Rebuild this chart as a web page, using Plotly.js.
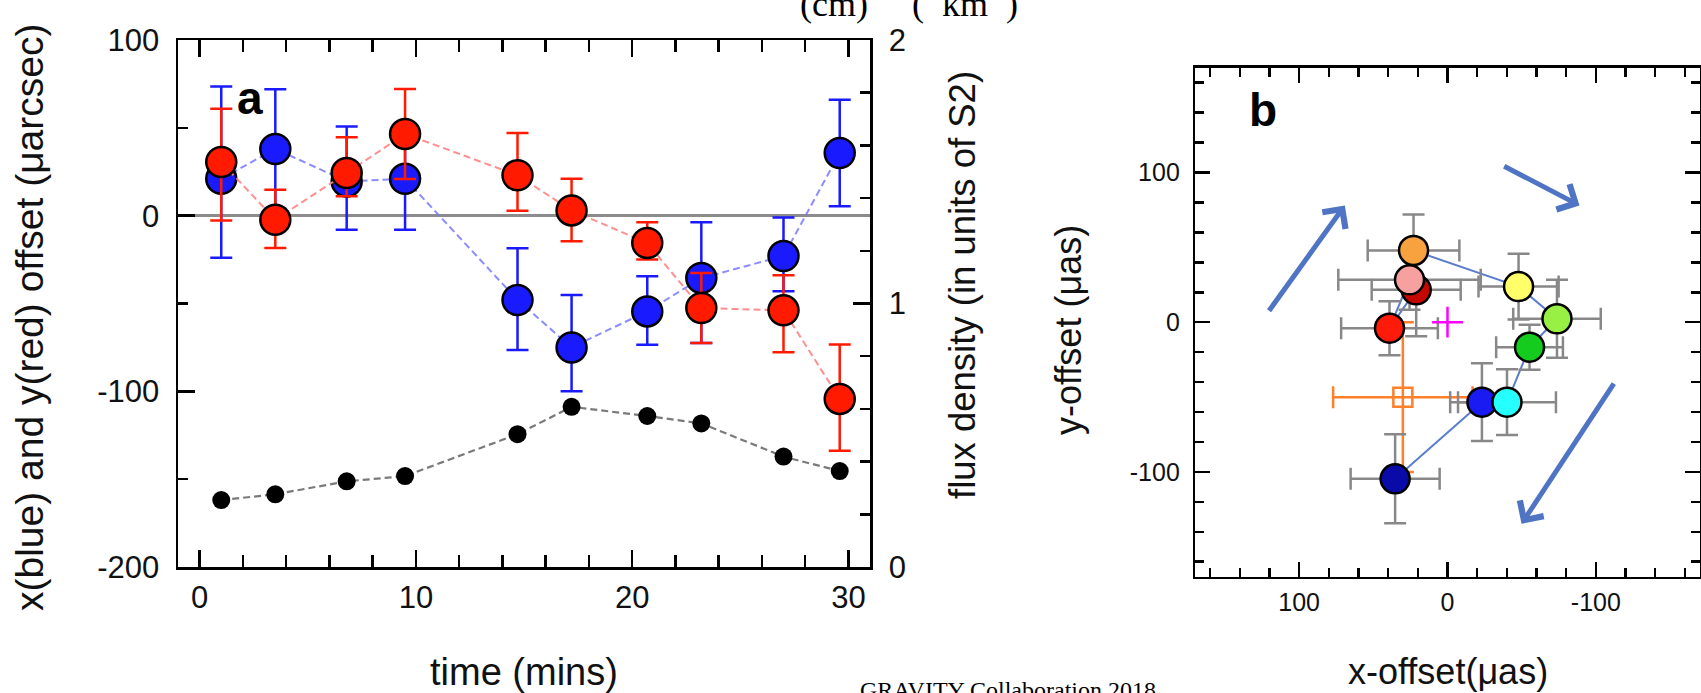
<!DOCTYPE html>
<html><head><meta charset="utf-8">
<script src="https://cdn.plot.ly/plotly-3.0.1.min.js"></script>
<style>html,body{margin:0;padding:0;background:#fff}#chart{width:1701px;height:693px}</style>
</head><body><div id="chart"></div>
<script>
// ---------- Panel a data ----------
const time = [1.0, 3.5, 6.8, 9.5, 14.7, 17.2, 20.7, 23.2, 27.0, 29.6];
const xOffset = [21, 38, 19.5, 21, -48, -75, -54.5, -35.5, -23, 35.7];
const xErrPlus = [52.6, 34, 31.3, 29, 29.4, 29.8, 20, 31.7, 21.9, 30.3];
const xErrMinus = [45, 34, 27.5, 29, 28.5, 25, 19, 37, 20, 30.4];
const yOffset = [30.5, -2.3, 24.3, 46.5, 23, 3, -15.6, -52.6, -53.9, -104.3];
const yErrPlus = [30.4, 17.1, 20.3, 25.6, 24, 18, 11.8, 20, 20, 30.9];
const yErrMinus = [33.2, 16.1, 13.3, 25.6, 20.2, 17.6, 9.4, 19.9, 23.9, 29.5];
const flux = [0.254, 0.276, 0.325, 0.345, 0.504, 0.608, 0.573, 0.545, 0.419, 0.364];
const offsetTickVals = [-200, -100, 0, 100];
const offsetTickText = ['-200', '-100', '0', '100'];

// ---------- Panel b data (time order) ----------
const bColors = ['#f7a0a0', '#ff1a0a', '#c40800', '#f7a23e', '#ffff6a', '#99f044', '#14cc1e', '#26ffff', '#1a1af2', '#0a0aa8'];
const bX = [25.6, 39.1, 21.1, 22.9, -47.9, -73.8, -55.3, -40.1, -23.2, 35.3];
const bY = [28.3, -4.0, 21.6, 47.9, 23.8, 2.3, -16.7, -53.4, -53.4, -104.6];
const bXErr = [48, 32.6, 30, 30.9, 27, 29.5, 22.5, 33, 21.4, 30];
const bYErr = [20, 18, 31, 24, 22, 26, 15, 22, 26, 29.7];
const meanX = [30.1], meanY = [-50.1], meanXErr = [47], meanYErr = [50];
const centerX = [0], centerY = [0];
const bTickVals = [-100, 0, 100];
const bTickText = ['-100', '0', '100'];
const arrowHeadX = [69.2, -89, -49.9], arrowHeadY = [78, 78, -134.7];
const arrowTailX = [121, -37.2, -112.8], arrowTailY = [6.7, 104.7, -40];

const W = 1701, H = 693;
const fx = p => p / W, fy = p => 1 - p / H;
const FONT = 'Liberation Sans, Arial, Helvetica, sans-serif';
const SERIF = 'Liberation Serif, Times New Roman, serif';

const axBase = {showline: true, linecolor: '#000', linewidth: 2.5, ticks: 'inside', tickcolor: '#000',
  tickwidth: 2.5, showgrid: false, zeroline: false, fixedrange: true};

const dash = '7px,4px';
const order = bX.map((_, i) => i).reverse();
const pick = (arr) => order.map(i => arr[i]);

const traces = [
  {x: time, y: flux, xaxis: 'x', yaxis: 'y2', mode: 'lines+markers',
   line: {color: '#7a7a7a', dash: dash, width: 2.2}, marker: {size: 18, color: '#000'}},
  {x: time, y: xOffset, xaxis: 'x', yaxis: 'y', mode: 'lines+markers',
   line: {color: 'rgba(120,120,255,0.85)', dash: dash, width: 2},
   marker: {size: 30, color: '#1a1aff', line: {color: '#000', width: 2.5}},
   error_y: {type: 'data', symmetric: false, array: xErrPlus, arrayminus: xErrMinus, color: '#1a1aff', thickness: 2.5, width: 11}},
  {x: time, y: yOffset, xaxis: 'x', yaxis: 'y', mode: 'lines+markers',
   line: {color: 'rgba(255,130,130,0.9)', dash: dash, width: 2},
   marker: {size: 30, color: '#ff1a00', line: {color: '#000', width: 2.5}},
   error_y: {type: 'data', symmetric: false, array: yErrPlus, arrayminus: yErrMinus, color: '#ff1a00', thickness: 2.5, width: 11}},
  // panel b
  {x: bX, y: bY, xaxis: 'x2', yaxis: 'y3', mode: 'lines', line: {color: '#5a7dcc', width: 2}},
  {x: meanX, y: meanY, xaxis: 'x2', yaxis: 'y3', mode: 'markers',
   marker: {symbol: 'square-open', size: 19, color: '#ff7f2a', line: {color: '#ff7f2a', width: 2.5}},
   error_x: {type: 'data', array: meanXErr, color: '#ff7f2a', thickness: 2.5, width: 11},
   error_y: {type: 'data', array: meanYErr, color: '#ff7f2a', thickness: 2.5, width: 11}},
  {x: pick(bX), y: pick(bY), xaxis: 'x2', yaxis: 'y3', mode: 'markers',
   marker: {size: 29, color: pick(bColors), line: {color: '#000', width: 2.5}},
   error_x: {type: 'data', array: pick(bXErr), color: '#888', thickness: 2.5, width: 11},
   error_y: {type: 'data', array: pick(bYErr), color: '#888', thickness: 2.5, width: 11}},
  {x: centerX, y: centerY, xaxis: 'x2', yaxis: 'y3', mode: 'markers',
   marker: {symbol: 'cross-thin-open', size: 22, color: '#ff00ff', line: {color: '#ff00ff', width: 2.5}}}
];

const tfA = {family: FONT, size: 31, color: '#111'};
const tfB = {family: FONT, size: 25, color: '#111'};

const layout = {
  width: W, height: H, margin: {l: 0, r: 0, t: 0, b: 0},
  paper_bgcolor: '#fff', plot_bgcolor: 'rgba(0,0,0,0)', showlegend: false,
  xaxis: Object.assign({}, axBase, {domain: [fx(178), fx(870)], range: [-1, 31], tick0: 0, dtick: 10,
    ticklen: 17, mirror: 'ticks', anchor: 'y', tickfont: tfA, ticklabelstandoff: 1,
    minor: {dtick: 2, tick0: 0, ticklen: 12, tickwidth: 2.5, tickcolor: '#000', ticks: 'inside'}}),
  yaxis: Object.assign({}, axBase, {domain: [fy(567), fy(40)], range: [-200, 100],
    tickmode: 'array', tickvals: offsetTickVals, ticktext: offsetTickText,
    ticklen: 17, anchor: 'x', tickfont: tfA, ticklabelstandoff: 10,
    zeroline: true, zerolinecolor: '#8c8c8c', zerolinewidth: 2.5,
    minor: {dtick: 50, tick0: 0, ticklen: 10, tickwidth: 2.5, tickcolor: '#000', ticks: 'inside'}}),
  yaxis2: Object.assign({}, axBase, {overlaying: 'y', side: 'right', anchor: 'x', range: [0, 2], tick0: 0, dtick: 1,
    ticklen: 17, tickfont: tfA, ticklabelstandoff: 10,
    minor: {dtick: 0.2, tick0: 0, ticklen: 10, tickwidth: 2.5, tickcolor: '#000', ticks: 'inside'}}),
  xaxis2: Object.assign({}, axBase, {domain: [fx(1195.3), fx(1699.7)], range: [170, -170],
    tickmode: 'array', tickvals: bTickVals, ticktext: bTickText,
    ticklen: 15, mirror: 'ticks', anchor: 'y3', tickfont: tfB, ticklabelstandoff: 2,
    minor: {dtick: 20, tick0: 0, ticklen: 9, tickwidth: 2.5, tickcolor: '#000', ticks: 'inside'}}),
  yaxis3: Object.assign({}, axBase, {domain: [fy(576.7), fy(67.7)], range: [-170, 170],
    tickmode: 'array', tickvals: bTickVals, ticktext: bTickText,
    ticklen: 15, mirror: 'ticks', anchor: 'x2', tickfont: tfB, ticklabelstandoff: 8,
    minor: {dtick: 20, tick0: 0, ticklen: 9, tickwidth: 2.5, tickcolor: '#000', ticks: 'inside'}}),
  annotations: [
    {text: '<b>a</b>', xref: 'paper', yref: 'paper', x: fx(250), y: fy(98), xanchor: 'center', yanchor: 'middle',
     showarrow: false, font: {family: FONT, size: 46, color: '#000'}},
    {text: '<b>b</b>', xref: 'paper', yref: 'paper', x: fx(1263), y: fy(110), xanchor: 'center', yanchor: 'middle',
     showarrow: false, font: {family: FONT, size: 46, color: '#000'}},
    {text: 'x(blue) and y(red) offset (\u03bcarcsec)', xref: 'paper', yref: 'paper', x: fx(29), y: fy(318),
     xanchor: 'center', yanchor: 'middle', textangle: -90, showarrow: false, font: {family: FONT, size: 39, color: '#111'}},
    {text: 'flux density (in units of S2)', xref: 'paper', yref: 'paper', x: fx(963), y: fy(285),
     xanchor: 'center', yanchor: 'middle', textangle: -90, showarrow: false, font: {family: FONT, size: 36.5, color: '#111'}},
    {text: 'time (mins)', xref: 'paper', yref: 'paper', x: fx(524), y: fy(672),
     xanchor: 'center', yanchor: 'middle', showarrow: false, font: {family: FONT, size: 38, color: '#111'}},
    {text: 'y-offset (\u03bcas)', xref: 'paper', yref: 'paper', x: fx(1068), y: fy(330),
     xanchor: 'center', yanchor: 'middle', textangle: -90, showarrow: false, font: {family: FONT, size: 36, color: '#111'}},
    {text: 'x-offset(\u03bcas)', xref: 'paper', yref: 'paper', x: fx(1447.5), y: fy(671),
     xanchor: 'center', yanchor: 'middle', showarrow: false, font: {family: FONT, size: 36, color: '#111'}},
    {text: '(cm)', xref: 'paper', yref: 'paper', x: fx(833.5), y: fy(26), xanchor: 'center', yanchor: 'bottom',
     showarrow: false, font: {family: SERIF, size: 36, color: '#000'}},
    {text: '(  km  )', xref: 'paper', yref: 'paper', x: fx(965), y: fy(26), xanchor: 'center', yanchor: 'bottom',
     showarrow: false, font: {family: SERIF, size: 36, color: '#000'}},
    {text: 'GRAVITY Collaboration 2018', xref: 'paper', yref: 'paper', x: fx(1007.5), y: fy(674.5), xanchor: 'center', yanchor: 'top',
     showarrow: false, font: {family: SERIF, size: 24, color: '#000'}}
  ]
};
for (let i = 0; i < arrowHeadX.length; i++) {
  layout.annotations.push({xref: 'x2', yref: 'y3', axref: 'x2', ayref: 'y3', x: arrowHeadX[i], y: arrowHeadY[i],
    ax: arrowTailX[i], ay: arrowTailY[i], text: '', showarrow: true, arrowhead: 4, arrowsize: 1.1, arrowwidth: 5,
    arrowcolor: '#4f74c4', standoff: 0, startstandoff: 0});
}
Plotly.newPlot('chart', traces, layout, {displayModeBar: false, staticPlot: true});
</script></body></html>
